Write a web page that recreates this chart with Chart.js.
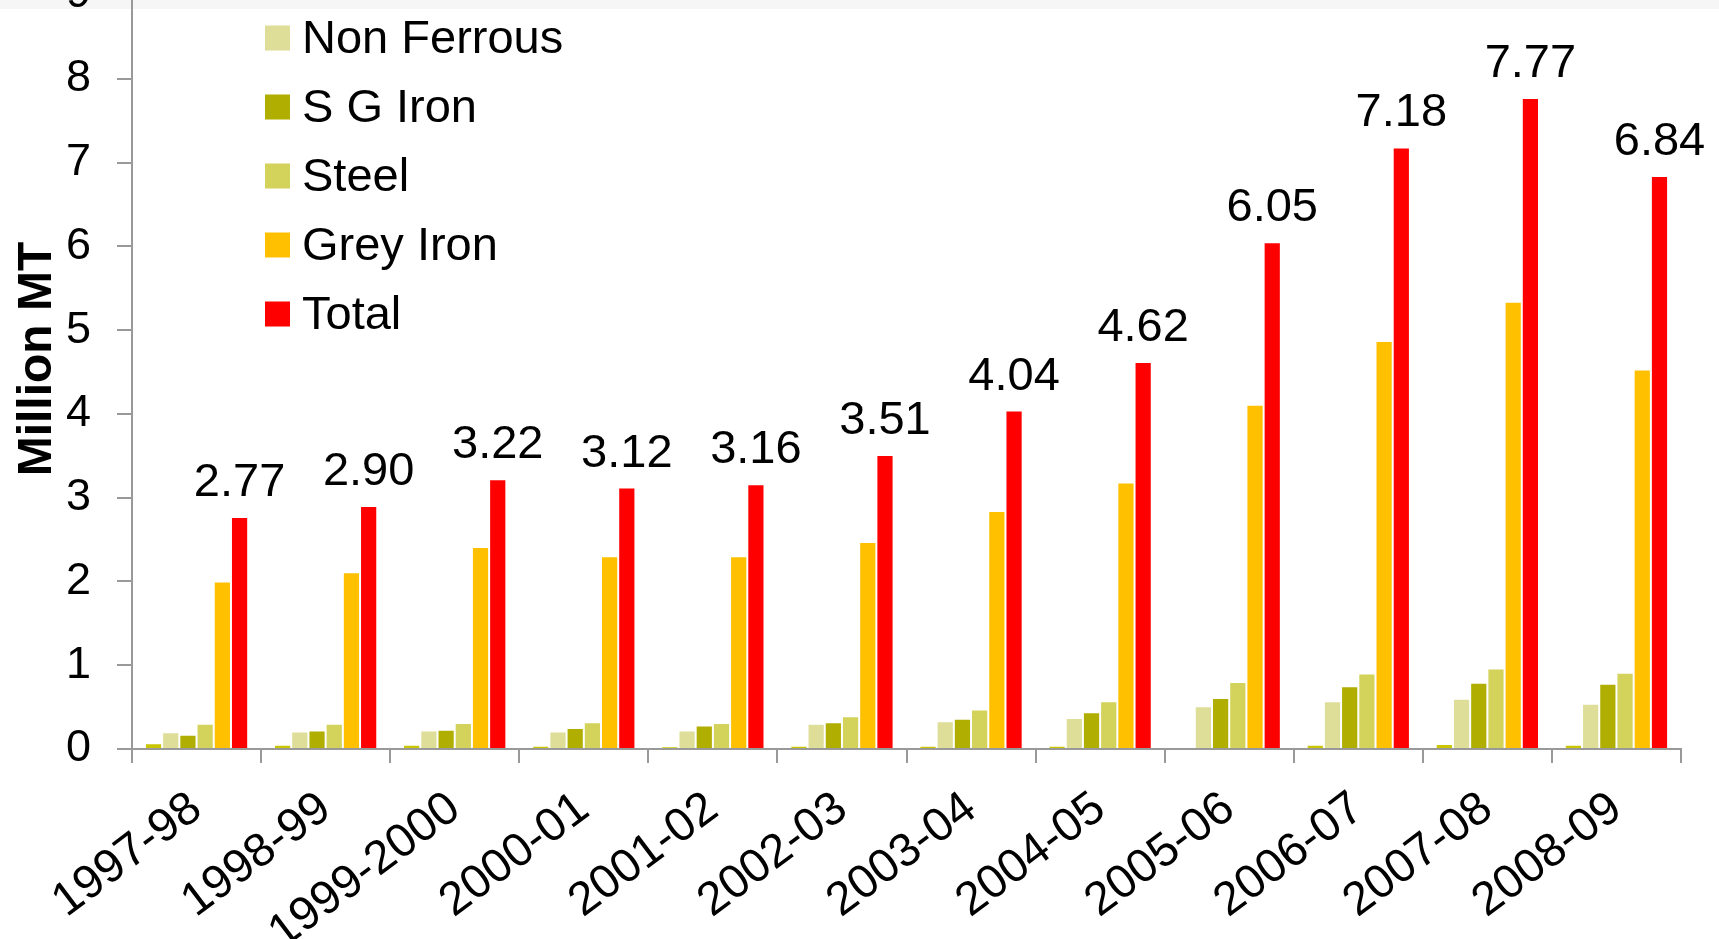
<!DOCTYPE html>
<html>
<head>
<meta charset="utf-8">
<script src="https://cdn.jsdelivr.net/npm/chart.js@4.4.0/dist/chart.umd.min.js"></script>
<style>
  html, body { margin: 0; padding: 0; background: #ffffff; overflow: hidden; }
  #strip { position: absolute; left: 0; top: 0; width: 1719px; height: 9px; background: #f6f6f6; }
  #wrap { position: absolute; left: 0; top: -58px; width: 1719px; height: 997px; }
</style>
</head>
<body>
<div id="strip"></div>
<div id="wrap"><canvas id="c" width="1719" height="997"></canvas></div>
<script>
const categories = ['1997-98','1998-99','1999-2000','2000-01','2001-02','2002-03','2003-04','2004-05','2005-06','2006-07','2007-08','2008-09'];
const otherSeries = [0.07, 0.05, 0.05, 0.04, 0.03, 0.04, 0.04, 0.04, 0.00, 0.05, 0.06, 0.05];
const nonFerrous  = [0.20, 0.21, 0.22, 0.21, 0.22, 0.30, 0.33, 0.37, 0.51, 0.57, 0.60, 0.54];
const sgIron      = [0.17, 0.22, 0.23, 0.25, 0.28, 0.32, 0.36, 0.44, 0.61, 0.75, 0.79, 0.78];
const steel       = [0.30, 0.30, 0.31, 0.32, 0.31, 0.39, 0.47, 0.57, 0.80, 0.90, 0.96, 0.91];
const greyIron    = [2.00, 2.11, 2.41, 2.30, 2.30, 2.47, 2.84, 3.18, 4.11, 4.87, 5.34, 4.53];
const total       = [2.77, 2.90, 3.22, 3.12, 3.16, 3.51, 4.04, 4.62, 6.05, 7.18, 7.77, 6.84];
const yTicks      = [0, 1, 2, 3, 4, 5, 6, 7, 8, 9];
const yTitle      = 'Million MT';

const FONT = "'Liberation Sans', Arial, sans-serif";
const colors = {
  other: '#C9C500',
  nonFerrous: '#DEDE98',
  sgIron: '#B0AE00',
  steel: '#D3D25A',
  greyIron: '#FFC000',
  total: '#FF0000'
};

const legendItems = [
  { text: 'Non Ferrous', color: colors.nonFerrous },
  { text: 'S G Iron', color: colors.sgIron },
  { text: 'Steel', color: colors.steel },
  { text: 'Grey Iron', color: colors.greyIron },
  { text: 'Total', color: colors.total }
];

const mkSet = (label, data, color) => ({
  label, data, backgroundColor: color,
  borderColor: 'rgba(255,255,255,0.45)', borderWidth: 1,
  categoryPercentage: 0.8, barPercentage: 1.0
});

const labelPlugin = {
  id: 'totalLabels',
  afterDatasetsDraw(chart) {
    const ctx = chart.ctx;
    const meta = chart.getDatasetMeta(5);
    ctx.save();
    ctx.font = "47px " + FONT;
    ctx.fillStyle = '#000';
    ctx.textAlign = 'center';
    ctx.textBaseline = 'alphabetic';
    meta.data.forEach((el, i) => {
      ctx.fillText(total[i].toFixed(2), el.x, el.y - 21);
    });
    ctx.restore();
  }
};

const legendPlugin = {
  id: 'vLegend',
  afterDraw(chart) {
    const ctx = chart.ctx;
    const a = chart.chartArea;
    ctx.save();
    ctx.font = "47px " + FONT;
    ctx.textAlign = 'left';
    ctx.textBaseline = 'middle';
    legendItems.forEach((it, i) => {
      const cy = a.top + 43 + i * 69;
      ctx.fillStyle = it.color;
      ctx.fillRect(a.left + 133, cy - 12.5, 25, 25);
      ctx.fillStyle = '#000';
      ctx.fillText(it.text, a.left + 170, cy + 2);
    });
    // y-axis title
    ctx.translate(51, a.top + 364);
    ctx.rotate(-Math.PI / 2);
    ctx.font = "bold 48px " + FONT;
    ctx.textAlign = 'center';
    ctx.textBaseline = 'alphabetic';
    ctx.fillText(yTitle, 0, 0);
    ctx.restore();
  }
};

new Chart(document.getElementById('c'), {
  type: 'bar',
  data: {
    labels: categories,
    datasets: [
      mkSet('Other', otherSeries, colors.other),
      mkSet('Non Ferrous', nonFerrous, colors.nonFerrous),
      mkSet('S G Iron', sgIron, colors.sgIron),
      mkSet('Steel', steel, colors.steel),
      mkSet('Grey Iron', greyIron, colors.greyIron),
      mkSet('Total', total, colors.total)
    ]
  },
  options: {
    responsive: false,
    animation: false,
    layout: { padding: { top: 37, right: 38, left: 0, bottom: 0 } },
    plugins: { legend: { display: false }, tooltip: { enabled: false } },
    scales: {
      x: {
        grid: { display: true, drawOnChartArea: false, drawTicks: true, tickLength: 14, color: '#999', lineWidth: 2, offset: true },
        border: { display: true, color: '#999', width: 2 },
        ticks: { color: '#000', font: { family: FONT, size: 47 }, minRotation: 37, maxRotation: 37, autoSkip: false, padding: 18 },
        afterFit(s) { s.height = 190; }
      },
      y: {
        min: 0, max: 9,
        afterBuildTicks(s) { s.ticks = yTicks.map(v => ({ value: v })); },
        grid: { display: true, drawOnChartArea: false, drawTicks: true, tickLength: 15, color: '#999', lineWidth: 2 },
        border: { display: true, color: '#999', width: 2 },
        ticks: { color: '#000', font: { family: FONT, size: 45 }, padding: 26 },
        title: { display: false },
        afterFit(s) { s.width = 132; }
      }
    }
  },
  plugins: [labelPlugin, legendPlugin]
});
</script>
</body>
</html>
